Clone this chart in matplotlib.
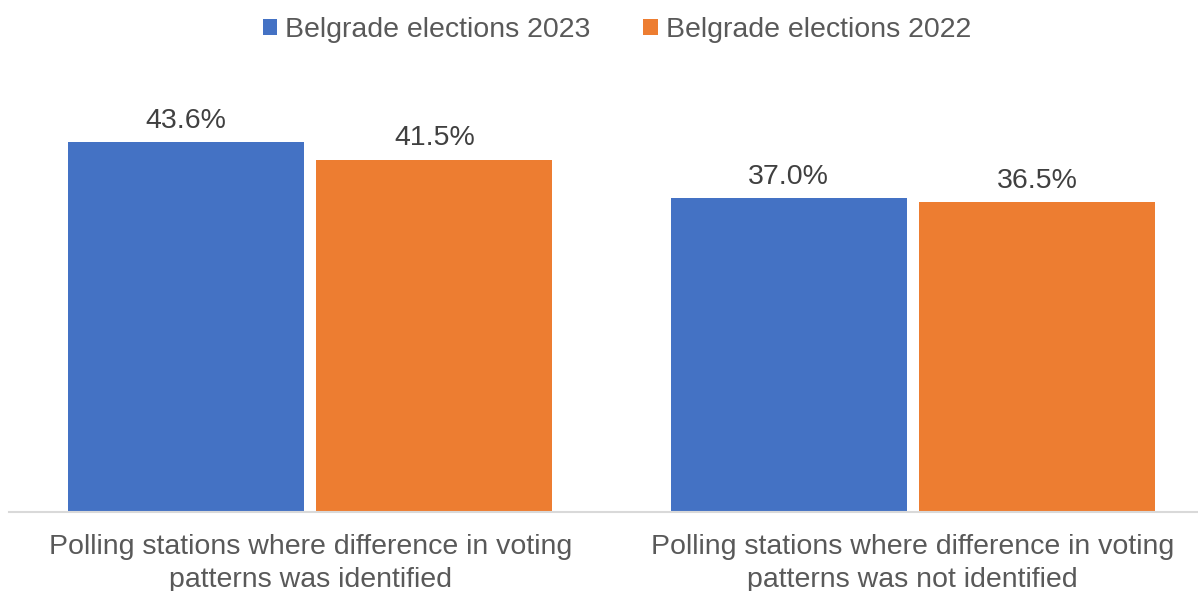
import matplotlib.pyplot as plt
import numpy as np

categories = [
    "Polling stations where difference in voting\npatterns was identified",
    "Polling stations where difference in voting\npatterns was not identified",
]
series_names = ["Belgrade elections 2023", "Belgrade elections 2022"]
values_2023 = [43.6, 37.0]
values_2022 = [41.5, 36.5]
colors = ["#4472C4", "#ED7D31"]
text_color = "#595959"

plt.rcParams["font.family"] = ["Liberation Sans", "DejaVu Sans"]

W, H = 1198, 591
fig = plt.figure(figsize=(W / 100, H / 100), dpi=100)

# plot area in pixel terms: x from 9 to 1214, baseline at y=512
x0, x1 = 9, 1214
y_base, y_top = 512, 60
ax = fig.add_axes([x0 / W, (H - y_base) / H, (x1 - x0) / W, (y_base - y_top) / H])

ymax = 43.6 * (y_base - y_top) / (y_base - 142)
ax.set_ylim(0, ymax)
ax.set_xlim(-0.5, 1.5)

x = np.arange(len(categories))
bw = 0.392
gap = 0.02
offsets = [-(bw + gap) / 2, (bw + gap) / 2]

for vals, off, col, name in zip([values_2023, values_2022], offsets, colors, series_names):
    bars = ax.bar(x + off, vals, width=bw, color=col, label=name, zorder=2)
    for b, v in zip(bars, vals):
        ax.annotate(f"{v:.1f}%", (b.get_x() + b.get_width() / 2, v),
                    xytext=(0, 6), textcoords="offset points",
                    ha="center", va="bottom", fontsize=20.5, color="#404040")

for s in ["top", "left", "right"]:
    ax.spines[s].set_visible(False)
ax.spines["bottom"].set_color("#D9D9D9")
ax.spines["bottom"].set_linewidth(1.5)
ax.set_yticks([])
ax.set_xticks(x)
ax.set_xticklabels(categories, fontsize=20.5, color=text_color, linespacing=1.32)
ax.tick_params(axis="x", length=0, pad=16)

leg = fig.legend(loc="center", bbox_to_anchor=(617 / W, 1 - 30 / H), ncol=2,
                 frameon=False, fontsize=20.5, handlelength=0.5, handleheight=0.5,
                 handletextpad=0.3, columnspacing=1.85)
for t in leg.get_texts():
    t.set_color(text_color)

fig.savefig("out.png", dpi=100)
